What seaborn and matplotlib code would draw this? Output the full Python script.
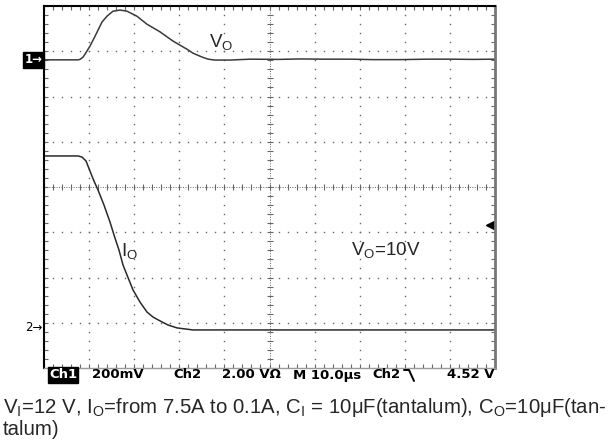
import matplotlib
matplotlib.use("Agg")
import matplotlib.pyplot as plt
import matplotlib.transforms as mtransforms
from matplotlib.lines import Line2D
import numpy as np
import pandas as pd
import seaborn as sns

# ---- scope settings ----
TIME_PER_DIV = 10.0      # us/div
CH1_PER_DIV = 200.0      # mV/div
CH2_PER_DIV = 2.0        # A/div (2.00 V/Ohm)
CH1_OFFSET = 6.81        # div from bottom (1-> marker)
CH2_OFFSET = 0.906       # div from bottom (2-> marker)
TRIG_LEVEL = 4.52        # V on Ch2

# ---- V_O trace (deviation, mV) ----
vo_time = [0, 7.54, 7.98, 8.65, 9.09, 10.2, 11.0, 11.75, 12.86, 13.97, 15.3, 16.0,
           16.85, 17.5, 18.4, 20.6, 22.8, 25.7, 28.6, 31.7, 33.0, 34.6, 35.5, 36.4,
           37.9, 41.2, 45.7, 52.0, 56.8, 62.0, 67.8, 73.0, 78.9, 85.0, 90.0, 95.0, 100]
vo_mv = [0, 0, 2, 12, 25, 61, 92, 122, 167, 193, 215, 217,
         220, 218, 215, 193, 158, 124, 83, 47, 30, 16, 9, 3,
         -1, -1, 3, 2, 4, 3, 3, 1, 1, 3, 3, 2, 3]

# ---- I_O trace (A) ----
io_time = [0, 7.54, 8.43, 9.31, 10.2, 11.09, 11.97, 13.3, 14.63, 15.74, 16.63,
           17.52, 18.4, 19.73, 21.29, 22.84, 24.17, 25.72, 27.49, 29.49, 33.04,
           56.8, 100]
io_amp = [7.56, 7.56, 7.51, 7.34, 6.89, 6.45, 6.06, 5.39, 4.64, 3.93, 3.40,
          2.74, 2.30, 1.64, 1.10, 0.66, 0.44, 0.27, 0.09, -0.04, -0.13,
          -0.13, -0.13]

status_items = ["200mV", "Ch2", "2.00 V\u03a9", "M 10.0\u00b5s", "Ch2", "4.52 V"]
status_left_px = [92, 173, 222, 293, 372, 447]

caption_1 = (r"V$_\mathregular{I}$=12 V, I$_\mathregular{O}$=from 7.5A to 0.1A, "
             r"C$_\mathregular{I}$ = 10$\mathregular{\mu}$F(tantalum), "
             r"C$_\mathregular{O}$=10$\mathregular{\mu}$F(tan-")
caption_2 = "talum)"

sns.set_style("white")
plt.rcParams["font.family"] = ["Liberation Sans", "DejaVu Sans"]
plt.rcParams["mathtext.fontset"] = "custom"
plt.rcParams["mathtext.rm"] = "Liberation Sans"
plt.rcParams["mathtext.it"] = "Liberation Sans:italic"

W, H = 608, 443
fig = plt.figure(figsize=(W / 100, H / 100), dpi=100)
ax = fig.add_axes([44 / W, 1 - 368 / H, 451 / W, 362 / H])
ax.set_xlim(0, 10)
ax.set_ylim(0, 8)
ax.set_xticks([])
ax.set_yticks([])


def fx(px):
    return px / W


def fy(py):
    return 1 - py / H


# graticule
grid_c = "#666666"
xm = np.arange(0, 10.001, 0.2)
ym = np.arange(0, 8.001, 0.2)
for gx in [1, 2, 3, 4, 6, 7, 8, 9]:
    ax.plot([gx] * len(ym), ym, ls="none", marker="s", ms=1.0, mew=0, color=grid_c)
for gy in [1, 2, 3, 5, 6, 7]:
    ax.plot(xm, [gy] * len(xm), ls="none", marker="s", ms=1.0, mew=0, color=grid_c)
# center lines
ax.plot([0, 10], [4, 4], ls=(0, (1, 1.5)), lw=0.7, color=grid_c)
ax.plot([5, 5], [0, 8], ls=(0, (1, 1.5)), lw=0.7, color=grid_c)
ax.plot(xm, [4] * len(xm), ls="none", marker="|", ms=5, mew=0.8, color=grid_c)
ax.plot([5] * len(ym), ym, ls="none", marker="_", ms=5, mew=0.8, color=grid_c)
# edge ticks
for yy in [0, 8]:
    ax.plot(xm, [yy] * len(xm), ls="none", marker="|", ms=6, mew=0.8, color=grid_c)
for xx in [0, 10]:
    ax.plot([xx] * len(ym), ym, ls="none", marker="_", ms=6, mew=0.8, color=grid_c)

# traces
df_vo = pd.DataFrame({"t": vo_time, "v": vo_mv})
df_vo["x"] = df_vo["t"] / TIME_PER_DIV
df_vo["y"] = CH1_OFFSET + df_vo["v"] / CH1_PER_DIV
df_io = pd.DataFrame({"t": io_time, "i": io_amp})
df_io["x"] = df_io["t"] / TIME_PER_DIV
df_io["y"] = CH2_OFFSET + df_io["i"] / CH2_PER_DIV

sns.lineplot(data=df_vo, x="x", y="y", ax=ax, color="#3a3a3a", lw=1.1, sort=False)
sns.lineplot(data=df_io, x="x", y="y", ax=ax, color="#2a2a2a", lw=1.1, sort=False)
ax.set_xlabel("")
ax.set_ylabel("")

# trace labels
ax.text(3.66, 7.09, r"V$_\mathregular{O}$", fontsize=13.5, va="baseline", ha="left")
ax.text(1.71, 2.475, r"I$_\mathregular{O}$", fontsize=13.5, va="baseline", ha="left")
ax.text(6.81, 2.50, r"V$_\mathregular{O}$=10V", fontsize=13.5, va="baseline", ha="left")

# channel markers and trigger level
blend = mtransforms.blended_transform_factory(ax.transAxes, ax.transData)
ax.text(-0.004, CH1_OFFSET, "1\u2192", transform=blend, ha="right", va="center",
        color="white", fontsize=8.5, fontweight="bold", family="DejaVu Sans",
        bbox=dict(boxstyle="square,pad=0.12", fc="black", ec="black"))
ax.text(-0.004, CH2_OFFSET, "2\u2192", transform=blend, ha="right", va="center",
        color="black", fontsize=8.5, family="DejaVu Sans")
ax.plot(9.9, CH2_OFFSET + TRIG_LEVEL / CH2_PER_DIV, marker="<", ms=5.5,
        color="black", clip_on=False)

for side in ["left", "top"]:
    ax.spines[side].set_color("black")
    ax.spines[side].set_linewidth(1.5)
ax.spines["right"].set_color("#777777")
ax.spines["right"].set_linewidth(2)
ax.spines["bottom"].set_color("#9a9a9a")
ax.spines["bottom"].set_linewidth(1)

# status bar
status_font = dict(fontsize=9.5, fontweight="bold", family="DejaVu Sans", va="center")
fig.text(fx(49), fy(375), "Ch1", color="white", ha="left",
         bbox=dict(boxstyle="square,pad=0.08", fc="black", ec="black"), **status_font)
for label, px in zip(status_items, status_left_px):
    fig.text(fx(px), fy(375), label, color="black", ha="left", **status_font)
fig.add_artist(Line2D([fx(404), fx(409), fx(414)], [fy(370), fy(370), fy(381)],
                      color="black", lw=1.4))

# caption
fig.text(fx(3), fy(413), caption_1, fontsize=14.65, ha="left", va="baseline")
fig.text(fx(3), fy(435), caption_2, fontsize=14.65, ha="left", va="baseline")

fig.savefig("out.png", dpi=100)
